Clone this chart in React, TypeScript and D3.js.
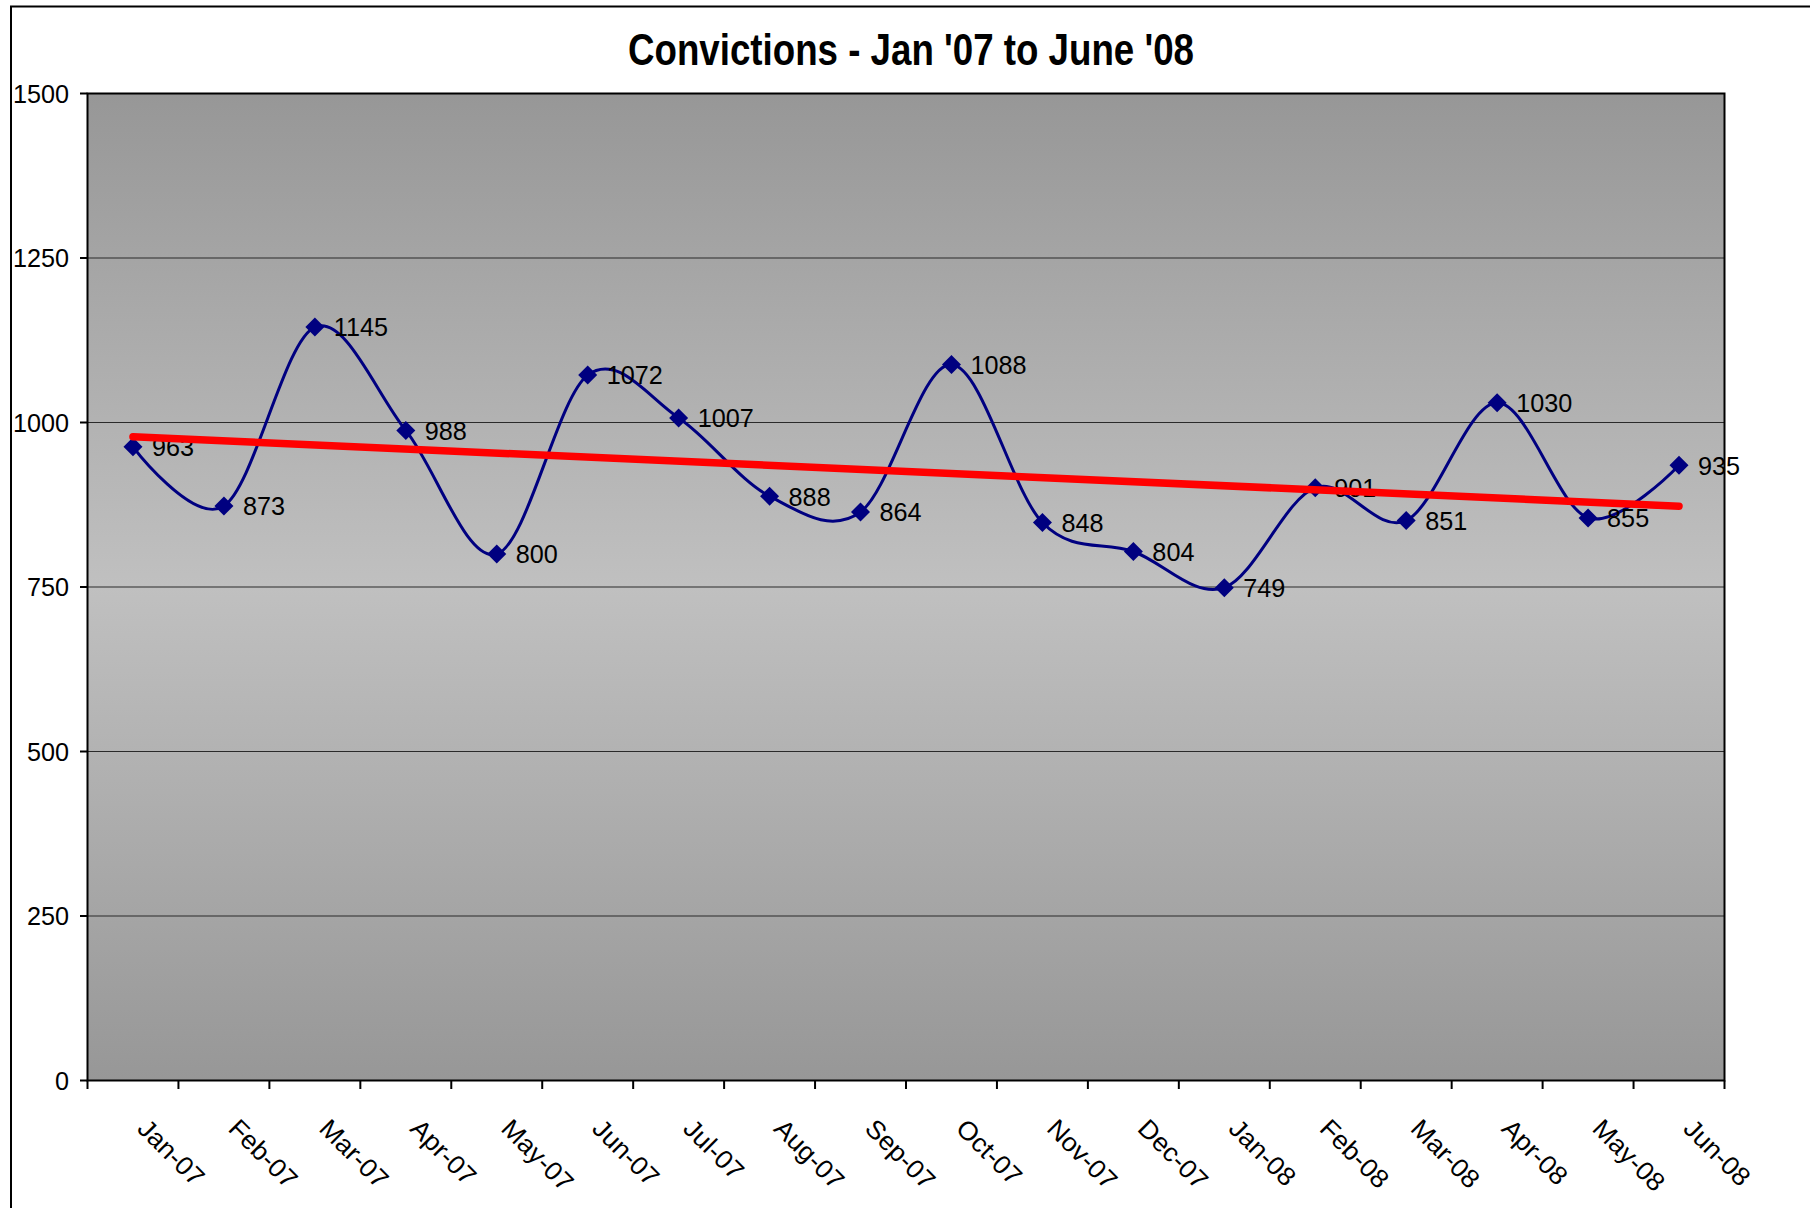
import React from "react";
import * as d3 from "d3";

const months = ["Jan-07","Feb-07","Mar-07","Apr-07","May-07","Jun-07","Jul-07","Aug-07","Sep-07","Oct-07","Nov-07","Dec-07","Jan-08","Feb-08","Mar-08","Apr-08","May-08","Jun-08"];
const convictions = [963, 873, 1145, 988, 800, 1072, 1007, 888, 864, 1088, 848, 804, 749, 901, 851, 1030, 855, 935];
const yTicks = [0, 250, 500, 750, 1000, 1250, 1500];
const title = "Convictions - Jan '07 to June '08";

const W = 1810, H = 1208;
const plot = { left: 87.5, right: 1724.5, top: 93.5, bottom: 1080.5 };
const FONT = "'Liberation Sans', Arial, sans-serif";
const FS = 26;
const SX = 0.97;

export default function App() {
  const x = d3.scaleBand<string>().domain(months).range([plot.left, plot.right]).padding(0);
  const y = d3.scaleLinear().domain([0, 1500]).range([plot.bottom, plot.top]);
  const cx = (m: string) => (x(m) as number) + x.bandwidth() / 2;

  const pts: [number, number][] = convictions.map((v, i) => [cx(months[i]), y(v)]);
  const line = d3.line().curve(d3.curveCardinal.tension(0))(pts) as string;

  // linear trendline (least squares), as Excel computes it
  const n = convictions.length;
  const xs = convictions.map((_, i) => i + 1);
  const mx = d3.mean(xs) as number;
  const my = d3.mean(convictions) as number;
  const slope = d3.sum(xs.map((xi, i) => (xi - mx) * (convictions[i] - my))) / d3.sum(xs.map((xi) => (xi - mx) ** 2));
  const icpt = my - slope * mx;
  const t0 = icpt + slope * 1;
  const t1 = icpt + slope * n;

  const boundaries = months.map((m) => x(m) as number).concat([plot.right]);
  const M = 9.5;

  return (
    <svg width={W} height={H} style={{ position: "absolute", left: 0, top: 0, display: "block", background: "#fff" }}>
      <defs>
        <linearGradient id="bg" x1="0" y1="0" x2="0" y2="1">
          <stop offset="0" stopColor="#979797" />
          <stop offset="0.5" stopColor="#c0c0c0" />
          <stop offset="1" stopColor="#979797" />
        </linearGradient>
      </defs>
      <rect x={11} y={6.5} width={W + 20} height={H + 20} fill="#fff" stroke="#000" strokeWidth={2} />
      <text x={911} y={65} textAnchor="middle" fontFamily={FONT} fontWeight="bold" fontSize={44} textLength={566} lengthAdjust="spacingAndGlyphs" fill="#000">{title}</text>

      <rect x={plot.left} y={plot.top} width={plot.right - plot.left} height={plot.bottom - plot.top} fill="url(#bg)" />
      {yTicks.filter((t) => t > 0 && t < 1500).map((t) => (
        <line key={t} x1={plot.left} x2={plot.right} y1={y(t)} y2={y(t)} stroke="#2a2a2a" strokeWidth={1.2} />
      ))}
      <rect x={plot.left} y={plot.top} width={plot.right - plot.left} height={plot.bottom - plot.top} fill="none" stroke="#000" strokeWidth={2} />

      {yTicks.map((t) => (
        <g key={t}>
          <line x1={80} x2={plot.left} y1={y(t)} y2={y(t)} stroke="#000" strokeWidth={2} />
          <text transform={`translate(69,${y(t)}) scale(${SX},1)`} dy="0.35em" textAnchor="end" fontFamily={FONT} fontSize={FS} fill="#000">{t}</text>
        </g>
      ))}
      {boundaries.map((b, i) => (
        <line key={i} x1={b} x2={b} y1={plot.bottom} y2={1089} stroke="#000" strokeWidth={2} />
      ))}
      {months.map((m) => (
        <text key={m} transform={`translate(${cx(m) + 3},${1130}) rotate(45) scale(1.03,1)`} textAnchor="start" fontFamily={FONT} fontSize={FS} fill="#000">{m}</text>
      ))}

      <path d={line} fill="none" stroke="#000080" strokeWidth={3} />
      {pts.map(([px, py], i) => (
        <path key={i} d={`M${px},${py - M}L${px + M},${py}L${px},${py + M}L${px - M},${py}Z`} fill="#000080" />
      ))}
      {pts.map(([px, py], i) => (
        <text key={i} transform={`translate(${px + 19},${py}) scale(${SX},1)`} dy="0.36em" fontFamily={FONT} fontSize={FS} fill="#000">{convictions[i]}</text>
      ))}
      <line x1={cx(months[0])} x2={cx(months[n - 1])} y1={y(t0)} y2={y(t1)} stroke="#ff0000" strokeWidth={7.5} strokeLinecap="round" />
    </svg>
  );
}
